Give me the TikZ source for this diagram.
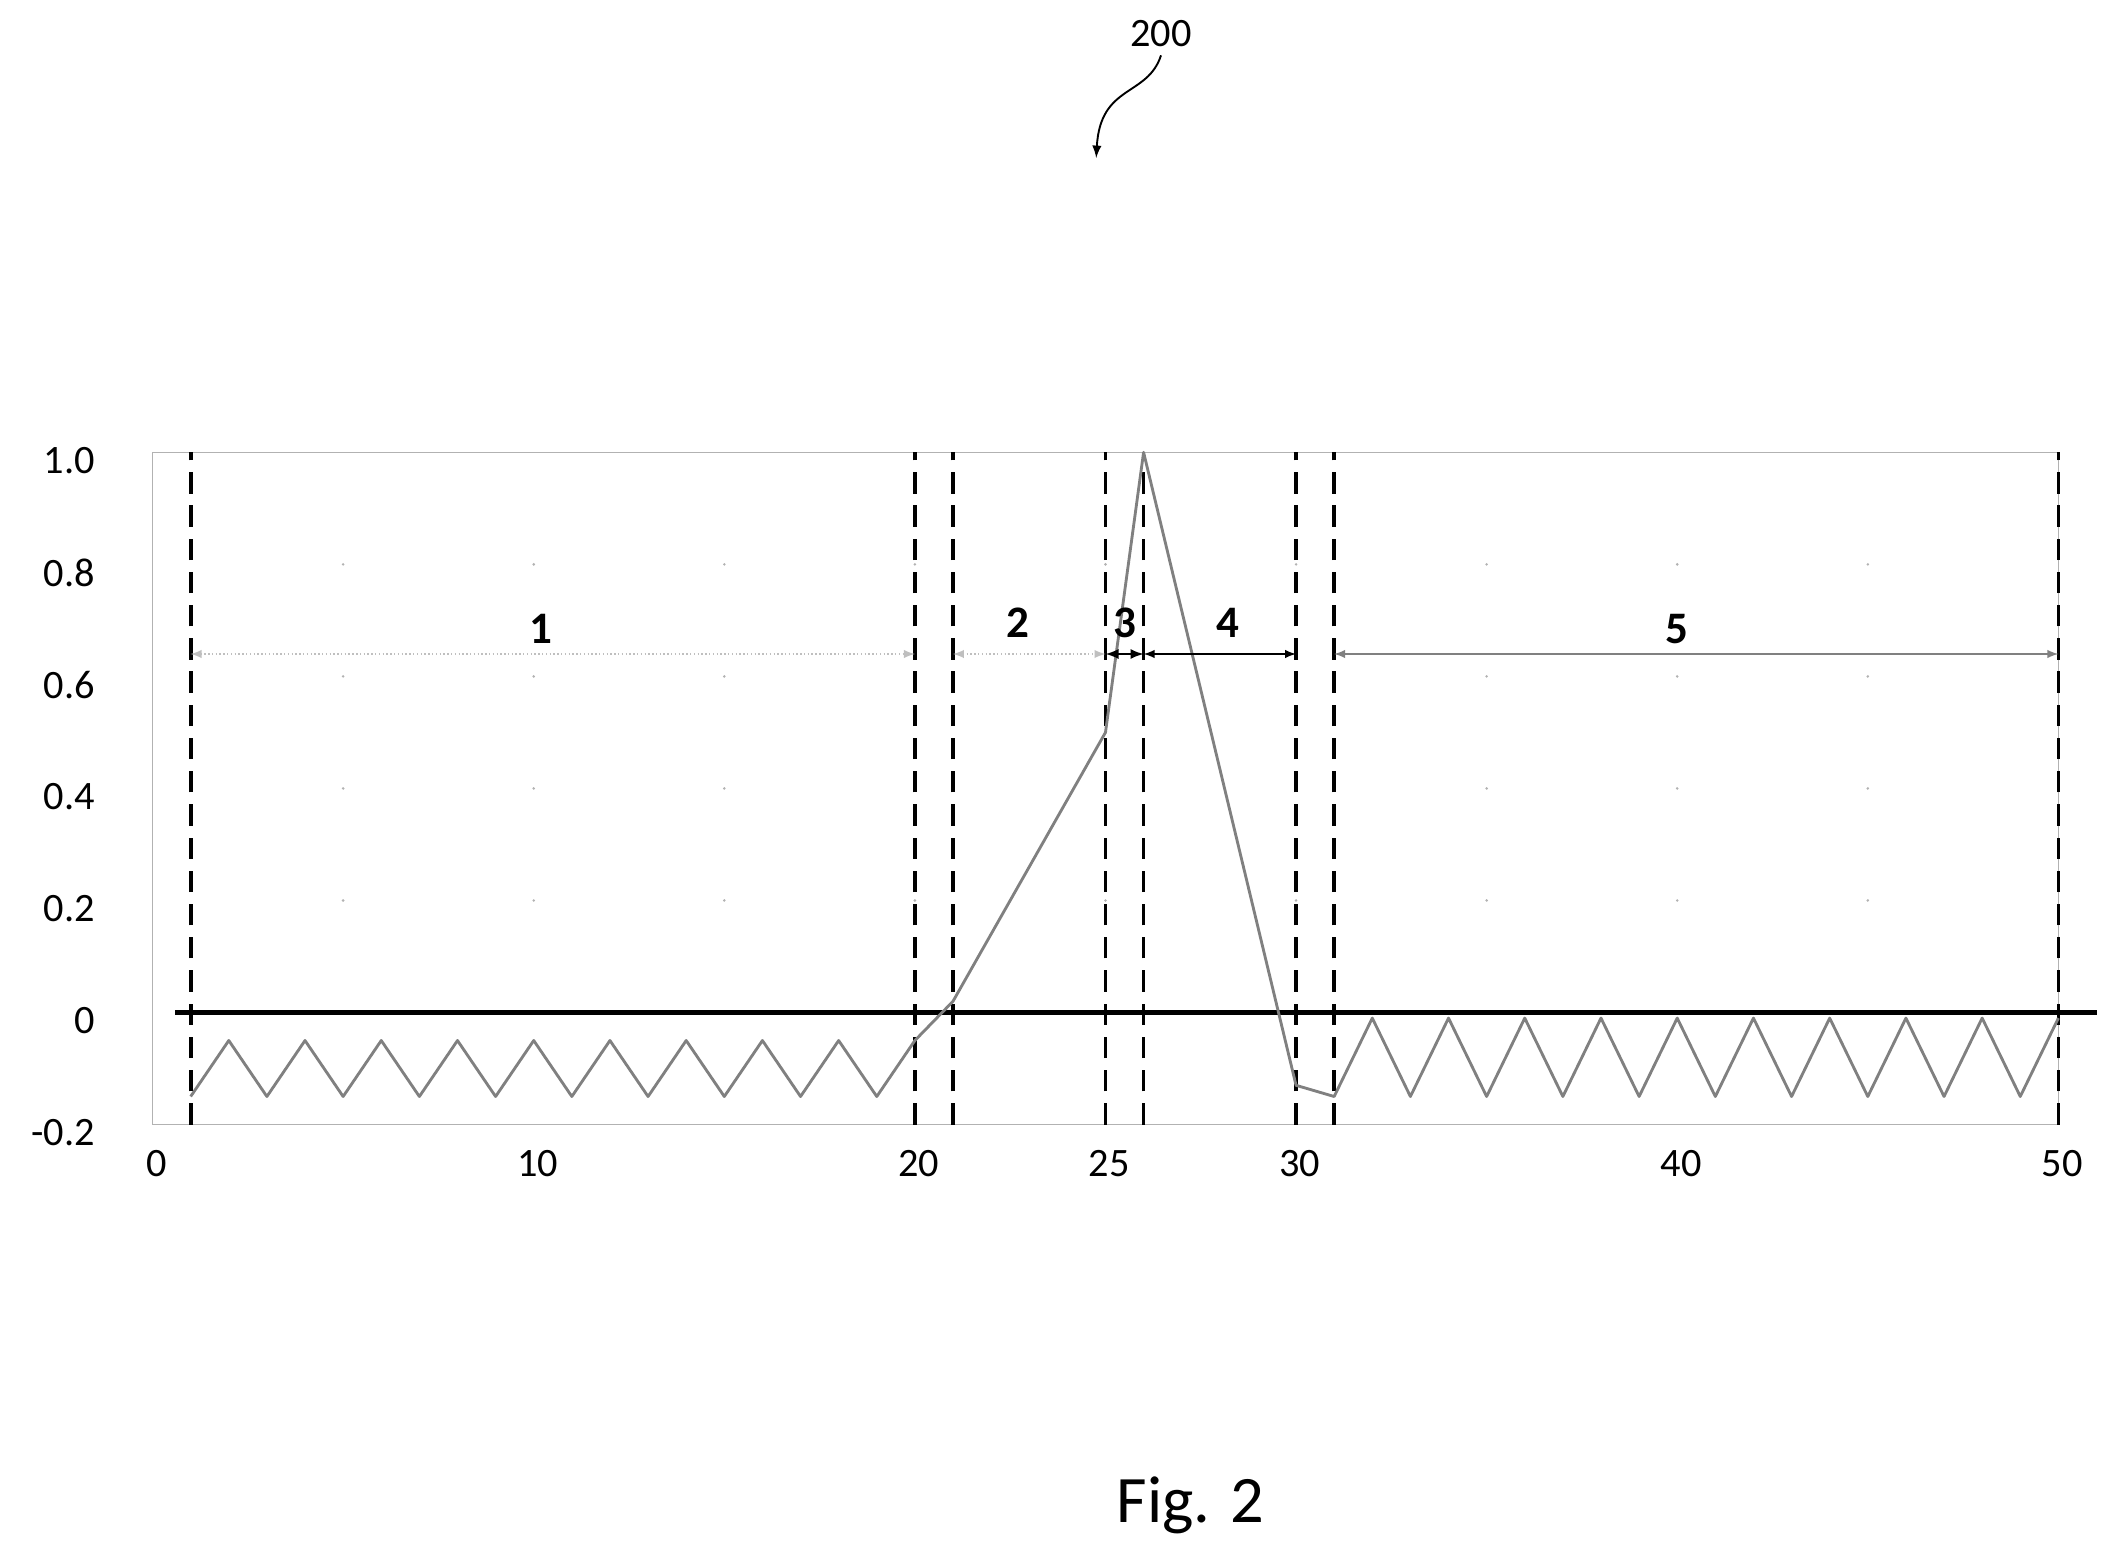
\documentclass[tikz,border=0pt]{standalone}
\usepackage{fontspec}
\setmainfont{Carlito}
\usetikzlibrary{arrows}
\begin{document}
\begin{tikzpicture}[x=0.02cm,y=0.02cm,
    lbl/.style={font=\fontsize{17}{20}\selectfont},
    seg/.style={font=\bfseries\fontsize{19}{22}\selectfont},
    bound/.style={densely dashed,line width=1.6pt,dash pattern=on 9pt off 5pt},
    span/.style={latex-latex,line width=0.6pt},
    signal/.style={gray,line width=1.2pt,line join=round}]
  \useasboundingbox (0,0) rectangle (1560,1147);
  \begin{scope}[shift={(113,397)},x=0.5648cm,y=8.3cm]
    % frame and faint grid
    \draw[gray!60,line width=0.4pt] (0,-0.2) rectangle (50,1.0);
    \foreach \gx in {5,10,...,45}
      \foreach \gy in {0.2,0.4,0.6,0.8}
        \fill[gray!60] (\gx,\gy) circle (0.6pt);
    % zero line
    \coordinate (z0) at (0.6,0);
    \coordinate (z1) at (51,0);
    \draw[line width=2.2pt] (z0) -- (z1);
    % tick labels
    \foreach \v/\t in {-0.2/-0.2,0/0,0.2/0.2,0.4/0.4,0.6/0.6,0.8/0.8,1.0/1.0}
      \node[lbl,anchor=east] (y\t) at (-1.3,\v-0.015) {\t};
    \foreach \v in {0,10,20,25,30,40,50}
      \node[lbl] (x\v) at (\v+0.1,-0.27) {\v};
    % boundaries
    \foreach \b in {1,20,21,25,26,30,31,50}{
      \coordinate (b\b) at (\b,-0.2);
      \coordinate (t\b) at (\b,1.0);
      \draw[bound] (b\b) -- (t\b);
    }
    % signal
    \draw[signal] (1,-0.15)
      \foreach \k in {2,4,...,18}{ -- (\k,-0.05) -- (\k+1,-0.15)}
      -- (20,-0.05) -- (21,0.02) -- (25,0.5) -- (26,1.0) -- (30,-0.13) -- (31,-0.15)
      \foreach \k in {32,34,...,48}{ -- (\k,-0.01) -- (\k+1,-0.15)}
      -- (50,-0.01);
    % spans
    \foreach \a/\b/\n in {1/20/1,21/25/2,25/26/3,26/30/4,31/50/5}{
      \coordinate (sa\n) at (\a,0.64);
      \coordinate (sb\n) at (\b,0.64);
    }
    \draw[span,gray!50,densely dotted] (sa1) -- (sb1);
    \draw[span,gray!50,densely dotted] (sa2) -- (sb2);
    \draw[span,line width=0.9pt] (sa3) -- (sb3);
    \draw[span] (sa4) -- (sb4);
    \draw[span,gray] (sa5) -- (sb5);
    \node[seg] (n1) at (10.2,0.685) {1};
    \node[seg] (n2) at (22.7,0.695) {2};
    \node[seg] (n3) at (25.5,0.695) {3};
    \node[seg] (n4) at (28.2,0.695) {4};
    \node[seg] (n5) at (40,0.685) {5};
  \end{scope}
  \node[lbl] (ref) at (860,1122) {200};
  \coordinate (tip) at (812,1030);
  \draw[-latex,line width=0.8pt] (ref.south) .. controls (850,1075) and (815,1085) .. (tip);
  \node[font=\fontsize{28}{32}\selectfont] (fig) at (882,32) {Fig. 2};
\end{tikzpicture}
\end{document}
